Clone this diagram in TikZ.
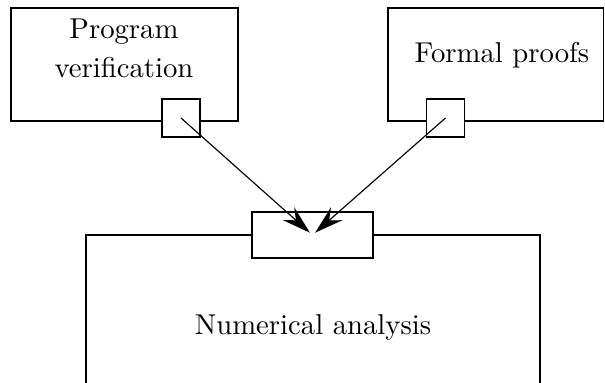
\documentclass[tikz,border=0pt]{standalone}
\usepackage{amsmath}
\usepackage{tikz}
\usetikzlibrary{arrows.meta,calc}

\begin{document}
\begin{tikzpicture}[x=0.3484pt,y=-0.3484pt]
\tikzset{
	port node/.style = {rectangle, draw, fill = white, inner sep = 0, minimum size = 13.2pt},
	wide port node/.style = {port node, minimum width = 42.2pt, minimum height = 16pt},
	link/.style = {-{Stealth[length = 10pt, width = 6pt, inset = 3.5pt]}, shorten > = 1.2pt},
}
\useasboundingbox (0,0) rectangle (605,383);
\clip (0,0) rectangle (605,383);

% the three areas
\draw (11,8) rectangle (238,121);
\draw (388,8) rectangle (603.5,121);
\draw (86,420) -- (86,235) -- (540,235) -- (540,420);

\node(prog) at (124,48) [align = center]{Program\\[1.6pt]verification};
\node(formal) at (502,55) {Formal proofs};
\node(num) at (313,327) {Numerical analysis};

% ports
\node(0-1) at (181,118) [port node]{};
\node(0-2) at (445.5,118) [port node]{};
\node(1) at (312.5,235) [wide port node]{};

\draw [link] (0-1.center) -- (1.center);
\draw [link] (0-2.center) -- (1.center);

\end{tikzpicture}
\end{document}
